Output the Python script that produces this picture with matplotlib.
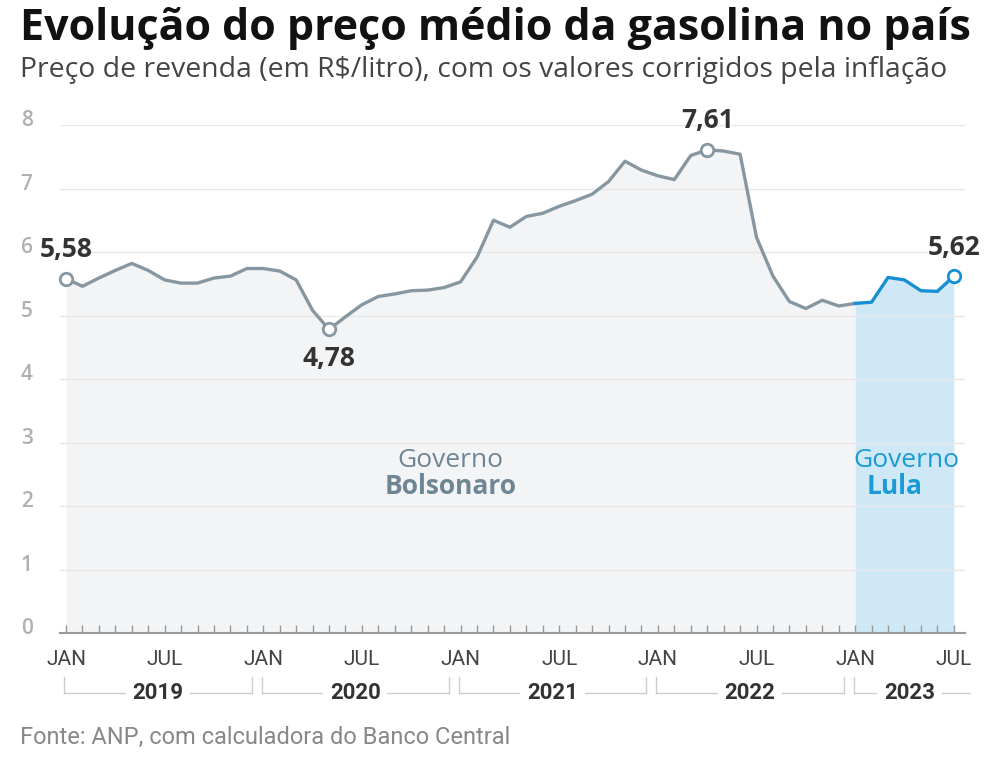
import matplotlib
matplotlib.use("Agg")
import matplotlib.pyplot as plt
import matplotlib.transforms as mtransforms
import numpy as np

# ---- data ----
months = list(range(55))  # Jan 2019 .. Jul 2023
prices = [5.58, 5.46, 5.59, 5.71, 5.82, 5.71, 5.56, 5.51, 5.51, 5.59, 5.62, 5.74,
          5.74, 5.70, 5.56, 5.08, 4.78, 4.98, 5.17, 5.30, 5.34, 5.39, 5.40, 5.44,
          5.53, 5.92, 6.50, 6.39, 6.56, 6.61, 6.72, 6.81, 6.91, 7.11, 7.43, 7.29,
          7.20, 7.14, 7.52, 7.61, 7.59, 7.54, 6.23, 5.62, 5.22, 5.11, 5.24, 5.15,
          5.19, 5.21, 5.60, 5.56, 5.39, 5.38, 5.62]
lula_start = 48
highlight_idx = [0, 16, 39, 54]
highlight_labels = ["5,58", "4,78", "7,61", "5,62"]
years = ["2019", "2020", "2021", "2022", "2023"]
month_labels = ["JAN", "JUL"]
yticks = [0, 1, 2, 3, 4, 5, 6, 7, 8]

GRAY_LINE = "#8797a1"
GRAY_FILL = "#f3f4f6"
BLUE_LINE = "#1690d2"
BLUE_FILL = "#cfe8f5"
TXT = "#333333"

plt.rcParams['font.family'] = ['Open Sans', 'DejaVu Sans']

fig = plt.figure(figsize=(10, 7.62), dpi=100)
W, H = 1000, 762
ax = fig.add_axes([60 / W, 1 - 633 / H, 905 / W, (633 - 125) / H])
ax.set_xlim(-0.365, 54.68)
ax.set_ylim(0, 8)

x = np.array(months)
y = np.array(prices)

# gray (Bolsonaro) area
ax.fill_between(x[:lula_start + 1], 0, y[:lula_start + 1], color=GRAY_FILL, lw=0, zorder=1)
ax.plot(x[:lula_start + 1], y[:lula_start + 1], color=GRAY_LINE, lw=2.4, zorder=3,
        solid_joinstyle='round')
# blue (Lula) area
ax.fill_between(x[lula_start:], 0, y[lula_start:], color=BLUE_FILL, lw=0, zorder=1)
ax.plot(x[lula_start:], y[lula_start:], color=BLUE_LINE, lw=2.4, zorder=3,
        solid_joinstyle='round')

# markers + labels
offsets = {0: (0, 11, 'bottom'), 16: (0, -11, 'top'), 39: (0, 11, 'bottom'), 54: (0, 11, 'bottom')}
for i, lab in zip(highlight_idx, highlight_labels):
    c = BLUE_LINE if i >= lula_start else GRAY_LINE
    ax.plot(x[i], y[i], 'o', ms=9, mfc='white', mec=c, mew=2, zorder=5, clip_on=False)
    dx, dy, va = offsets[i]
    ax.annotate(lab, (x[i], y[i]), xytext=(dx, dy), textcoords='offset points',
                ha='center', va=va, fontsize=19, fontweight='bold', color=TXT,
                annotation_clip=False, zorder=6)

# gridlines
ax.set_yticks(yticks)
ax.grid(axis='y', color='#e8e8e8', lw=1, zorder=0)
ax.tick_params(axis='y', length=0, labelsize=15, labelcolor='#b0b0b0', pad=24)
for lab in ax.get_yticklabels():
    lab.set_horizontalalignment('center')
    lab.set_fontweight('semibold')
    lab.set_transform(lab.get_transform() + mtransforms.ScaledTranslation(0, 5 / 72, fig.dpi_scale_trans))

for s in ['top', 'right', 'left']:
    ax.spines[s].set_visible(False)
ax.spines['bottom'].set_color('#999999')
ax.spines['bottom'].set_linewidth(1.5)

# x ticks: every month, taller at January
ax.set_xticks(months)
ax.set_xticklabels([])
ax.tick_params(axis='x', direction='in', length=6, width=1, color='#999999')
ax.set_xticks([m for m in months if m % 12 == 0], minor=True)
ax.tick_params(axis='x', which='minor', direction='in', length=10, width=1, color='#999999')

label_font = ['Roboto', 'DejaVu Sans']
xt = ax.get_xaxis_transform()
for m in months:
    if m % 6 == 0:
        ax.text(m, -0.033, month_labels[(m % 12) // 6], transform=xt, ha='center', va='top',
                fontsize=15, color='#444444', family=label_font)

# year brackets
for k, yr in enumerate(years):
    start = 12 * k - 0.1
    end = 12 * k + 11.3 if k < 4 else 55.0
    ybr = -0.118
    ax.plot([start, end], [ybr, ybr], transform=xt, color='#cccccc', lw=1, clip_on=False)
    ax.plot([start, start], [ybr, ybr + 0.031], transform=xt, color='#cccccc', lw=1, clip_on=False)
    if k < 4:
        ax.plot([end, end], [ybr, ybr + 0.031], transform=xt, color='#cccccc', lw=1, clip_on=False)
    cx = 12 * k + 5.6 if k < 4 else 51.3
    ax.text(cx, ybr, yr, transform=xt, ha='center', va='center', fontsize=16,
            fontweight='bold', color=TXT, family=label_font,
            bbox=dict(boxstyle='square,pad=0.3', fc='white', ec='none'))

# government labels
ax.text(23.4, 2.72, "Governo", ha='center', va='center', fontsize=19, color='#6e8593')
ax.text(23.4, 2.31, "Bolsonaro", ha='center', va='center', fontsize=19, color='#6e8593',
        fontweight='bold')
ax.text(51.1, 2.72, "Governo", ha='center', va='center', fontsize=19, color='#1a9ad6')
ax.text(50.4, 2.31, "Lula", ha='center', va='center', fontsize=19, color='#1a9ad6',
        fontweight='bold')

# titles
fig.text(20 / W, 1 - 28 / H, "Evolução do preço médio da gasolina no país", ha='left',
         va='center', fontsize=31, fontweight='bold', color='#111111')
fig.text(20 / W, 1 - 70 / H, "Preço de revenda (em R$/litro), com os valores corrigidos pela inflação",
         ha='left', va='center', fontsize=20.4, color='#444444')
fig.text(20 / W, 1 - 737 / H, "Fonte: ANP, com calculadora do Banco Central", ha='left',
         va='center', fontsize=17, color='#888888', family=label_font)

fig.savefig("out.png", dpi=100)
